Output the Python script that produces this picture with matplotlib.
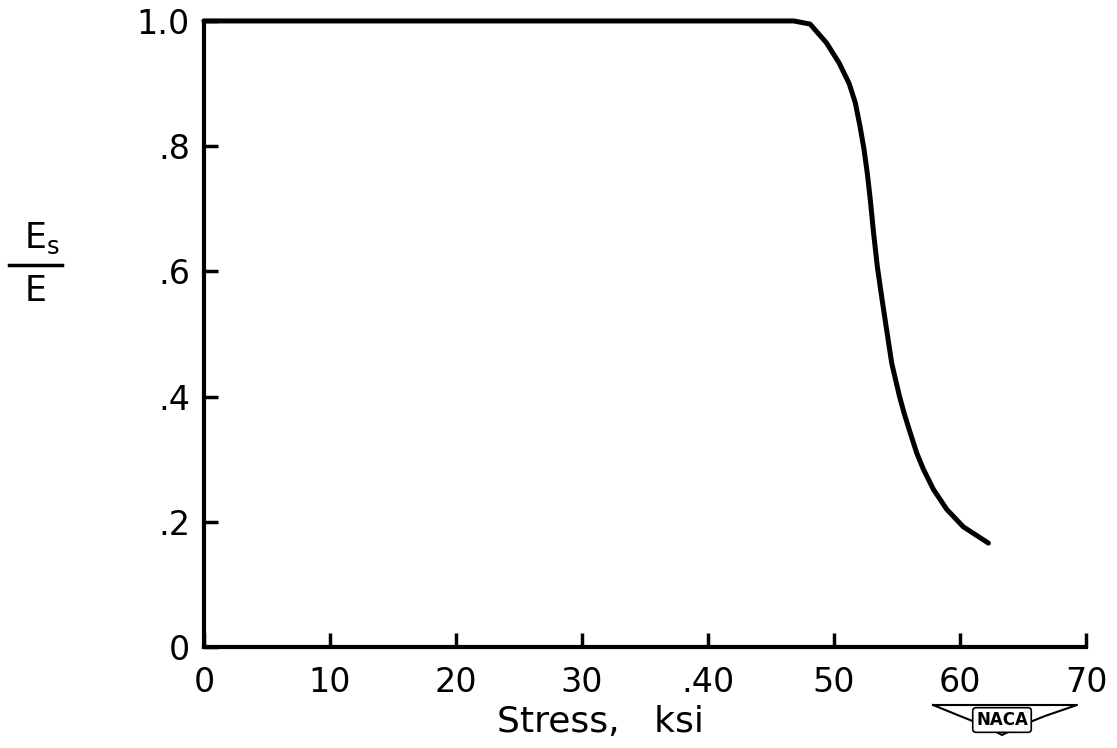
import matplotlib
matplotlib.use('Agg')
import matplotlib.pyplot as plt
from matplotlib.lines import Line2D
import numpy as np

# Curve (stress in ksi vs Es/E)
stress = [0, 10, 20, 30, 40, 46.0, 46.8, 48.1, 49.4, 50.4, 51.2, 51.68, 52.05, 52.38,
          52.65, 52.88, 53.14, 53.44, 53.82, 54.18, 54.58, 55.20, 55.57, 55.97,
          56.56, 57.09, 57.88, 58.94, 60.26, 62.25]
es_ratio = [1.0, 1.0, 1.0, 1.0, 1.0, 1.0, 1.0, 0.995, 0.965, 0.933, 0.900, 0.870,
            0.833, 0.795, 0.755, 0.714, 0.661, 0.607, 0.554, 0.506, 0.453, 0.400,
            0.373, 0.347, 0.310, 0.284, 0.252, 0.220, 0.192, 0.166]

x_ticks = [0, 10, 20, 30, 40, 50, 60, 70]
x_ticklabels = ['0', '10', '20', '30', '.40', '50', '60', '70']
y_ticks = [0, 0.2, 0.4, 0.6, 0.8, 1.0]
y_ticklabels = ['0', '.2', '.4', '.6', '.8', '1.0']

plt.rcParams['font.family'] = ['DejaVu Sans']

fig = plt.figure(figsize=(11.17, 7.48), dpi=100)
ax = fig.add_axes([0.1826, 0.135, 0.7897, 0.837])

ax.plot(stress, es_ratio, color='black', lw=3.6, solid_capstyle='round',
        solid_joinstyle='round', clip_on=False)

ax.set_xlim(0, 70)
ax.set_ylim(0, 1.0)
ax.spines['top'].set_visible(False)
ax.spines['right'].set_visible(False)
for s in ['left', 'bottom']:
    ax.spines[s].set_linewidth(3)
    ax.spines[s].set_capstyle('projecting')

ax.set_xticks(x_ticks)
ax.set_xticklabels(x_ticklabels)
ax.set_yticks(y_ticks)
ax.set_yticklabels(y_ticklabels)
ax.tick_params(axis='both', direction='in', length=10, width=2.5, labelsize=24)
ax.tick_params(axis='x', pad=14)
ax.tick_params(axis='y', pad=10)

# x axis label
fig.text(600 / 1117, 1 - 722 / 748, 'Stress,   ksi', fontsize=26,
         ha='center', va='center')

# y axis label as a stacked fraction Es / E
fig.text(42 / 1117, 1 - 238 / 748, r'$\mathregular{E_s}$', fontsize=25,
         ha='center', va='center')
fig.text(36 / 1117, 1 - 291 / 748, 'E', fontsize=25, ha='center', va='center')
fig.add_artist(Line2D([9 / 1117, 62 / 1117], [1 - 265 / 748, 1 - 265 / 748],
                      transform=fig.transFigure, color='black', lw=2.5))

# NACA emblem
wing_x = np.array([933, 1077, 1045, 1020, 1002, 985, 960, 933]) / 1117
wing_y = 1 - np.array([705, 705, 716, 726, 735, 726, 716, 705]) / 748
fig.add_artist(Line2D(wing_x, wing_y, transform=fig.transFigure, color='black', lw=1.5))
fig.text(1002 / 1117, 1 - 720 / 748, 'NACA', fontsize=12, fontweight='bold',
         ha='center', va='center',
         bbox=dict(boxstyle='round,pad=0.2', fc='white', ec='black', lw=1.2))

plt.savefig('out.png', dpi=100)
